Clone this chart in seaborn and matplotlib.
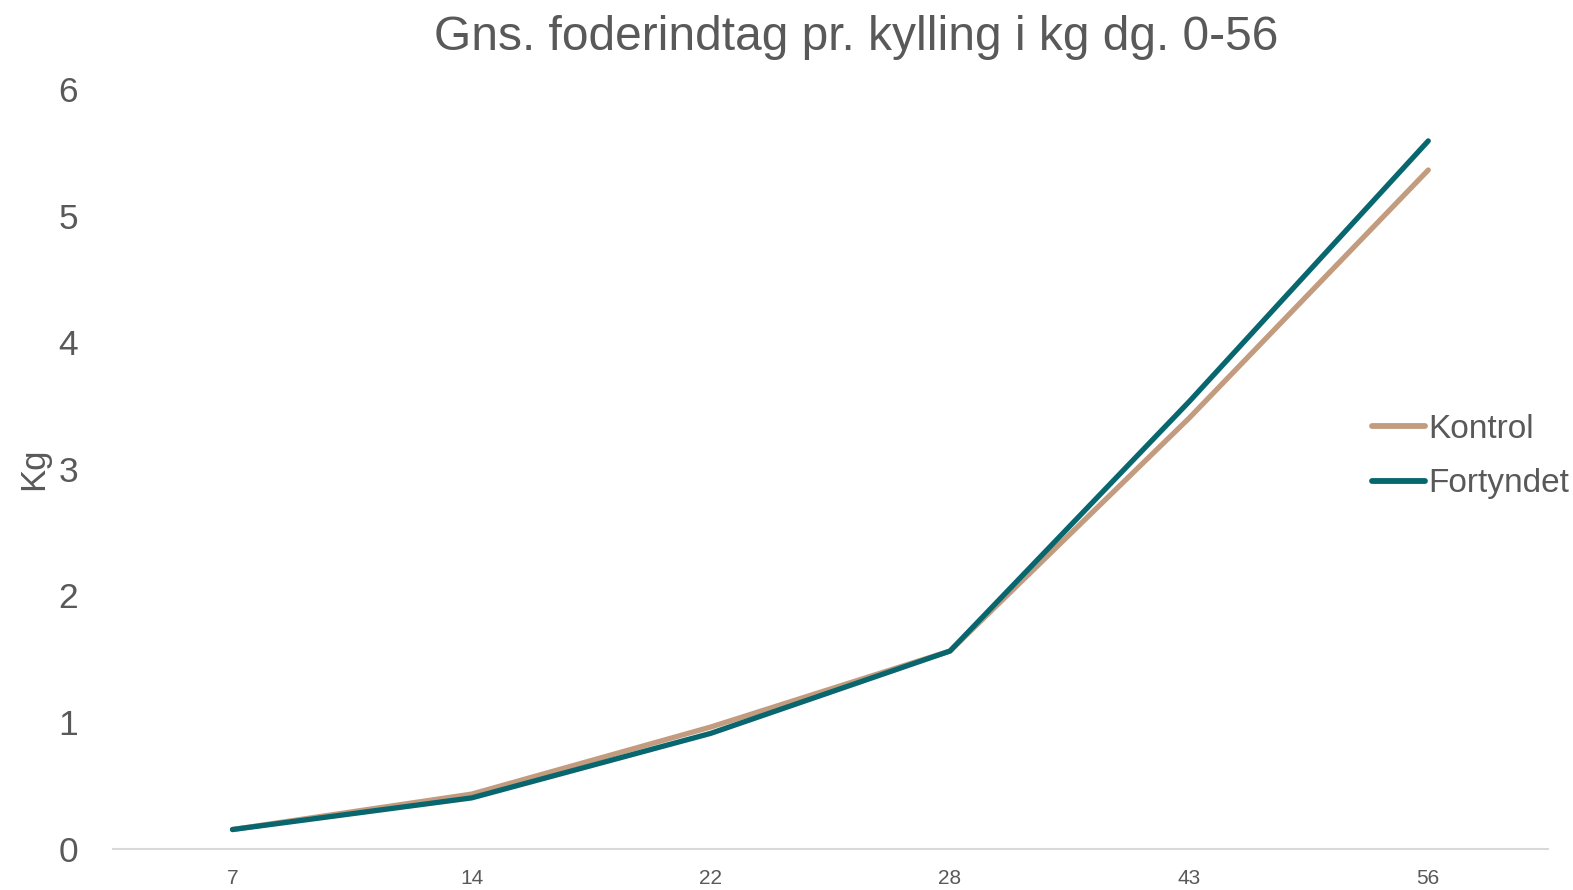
import pandas as pd
import seaborn as sns
import matplotlib.pyplot as plt

# Data
days = ['7', '14', '22', '28', '43', '56']
kontrol = [0.15, 0.43, 0.96, 1.56, 3.40, 5.36]
fortyndet = [0.15, 0.40, 0.91, 1.56, 3.53, 5.59]

df = pd.DataFrame({
    'dag': days * 2,
    'kg': kontrol + fortyndet,
    'serie': ['Kontrol'] * len(days) + ['Fortyndet'] * len(days),
})

sns.set_style('white')
plt.rcParams['font.family'] = ['Liberation Sans', 'DejaVu Sans']

fig = plt.figure(figsize=(15.73, 8.9), dpi=100)
ax = fig.add_axes([0.0718, 0.0466, 0.9122, 0.8534])

sns.lineplot(
    data=df, x='dag', y='kg', hue='serie',
    palette={'Kontrol': '#C39C7F', 'Fortyndet': '#08666F'},
    linewidth=3.8, ax=ax, sort=False,
)
for line in ax.get_lines():
    line.set_solid_capstyle('round')
    line.set_solid_joinstyle('round')

ax.set_xlim(-0.5, 5.5)
ax.set_ylim(0, 6)
ax.set_yticks(range(0, 7))

grey = '#595959'
ax.set_title('Gns. foderindtag pr. kylling i kg dg. 0-56', fontsize=34.5, color=grey,
             pad=28, x=0.518)
ax.set_xlabel('')
ax.set_ylabel('Kg', fontsize=25, color=grey, labelpad=6)
ax.tick_params(axis='y', labelsize=25.5, labelcolor=grey, length=0, pad=25)
ax.tick_params(axis='x', labelsize=15, labelcolor=grey, length=0, pad=15)

for side in ['top', 'right', 'left']:
    ax.spines[side].set_visible(False)
ax.spines['bottom'].set_color('#D9D9D9')
ax.spines['bottom'].set_linewidth(1.5)

leg = ax.legend(
    loc='center left', bbox_to_anchor=(0.8635, 0.487), bbox_transform=fig.transFigure,
    frameon=False, fontsize=24, labelcolor=grey, handlelength=1.6, handletextpad=0.1,
    labelspacing=0.7, borderaxespad=0,
)
for h in leg.get_lines():
    h.set_linewidth(4.2)

fig.savefig('out.png', dpi=100, facecolor='white')
